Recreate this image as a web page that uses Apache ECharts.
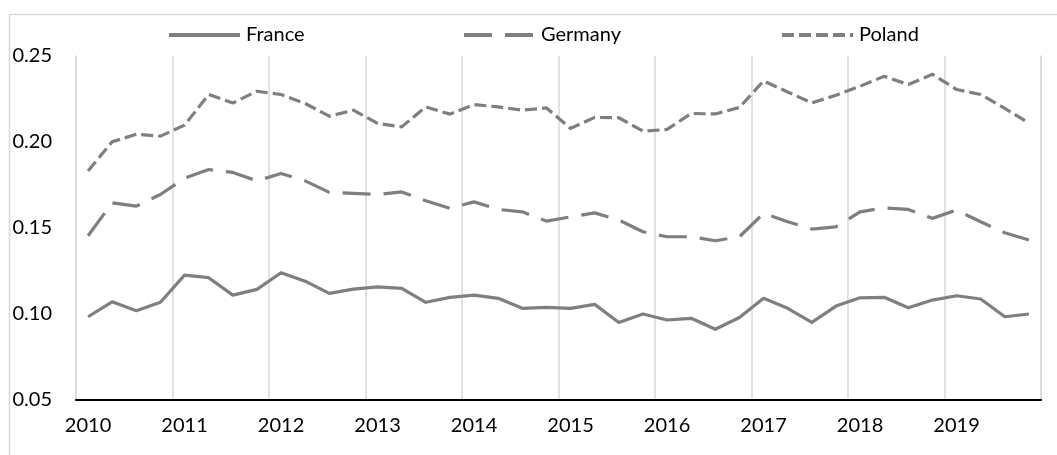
<!DOCTYPE html>
<html>
<head>
<meta charset="utf-8">
<style>
  html, body { margin: 0; padding: 0; background: #fff; }
  #chart { width: 1057px; height: 455px; }
</style>
<script src="https://cdn.jsdelivr.net/npm/echarts@6/dist/echarts.min.js"></script>
</head>
<body>
<div id="chart"></div>
<script>
  // quarterly points, 2010 Q1 .. 2019 Q4
  var years = ['2010', '2011', '2012', '2013', '2014', '2015', '2016', '2017', '2018', '2019'];
  var quarters = [];
  years.forEach(function (y) {
    for (var q = 1; q <= 4; q++) {
      quarters.push(y + 'Q' + q);
    }
  });

  var france = [
    0.0984, 0.1071, 0.1019, 0.1068, 0.1226, 0.1211, 0.1110, 0.1143,
    0.1240, 0.1191, 0.1120, 0.1145, 0.1158, 0.1149, 0.1068, 0.1097,
    0.1110, 0.1091, 0.1033, 0.1039, 0.1033, 0.1056, 0.0951, 0.1000,
    0.0965, 0.0975, 0.0911, 0.0980, 0.1091, 0.1033, 0.0951, 0.1046,
    0.1094, 0.1097, 0.1036, 0.1081, 0.1106, 0.1087, 0.0984, 0.1000
  ];
  var germany = [
    0.1455, 0.1646, 0.1627, 0.1695, 0.1790, 0.1840, 0.1823, 0.1774,
    0.1817, 0.1774, 0.1707, 0.1701, 0.1695, 0.1710, 0.1658, 0.1614,
    0.1652, 0.1608, 0.1594, 0.1540, 0.1565, 0.1588, 0.1546, 0.1478,
    0.1449, 0.1449, 0.1426, 0.1449, 0.1585, 0.1536, 0.1494, 0.1507,
    0.1594, 0.1617, 0.1608, 0.1556, 0.1604, 0.1536, 0.1472, 0.1430
  ];
  var poland = [
    0.1832, 0.2001, 0.2045, 0.2034, 0.2098, 0.2276, 0.2227, 0.2295,
    0.2276, 0.2224, 0.2150, 0.2185, 0.2108, 0.2088, 0.2204, 0.2162,
    0.2218, 0.2204, 0.2185, 0.2198, 0.2079, 0.2143, 0.2141, 0.2063,
    0.2073, 0.2166, 0.2163, 0.2201, 0.2355, 0.2291, 0.2227, 0.2272,
    0.2324, 0.2382, 0.2334, 0.2394, 0.2305, 0.2276, 0.2195, 0.2110
  ];

  var lineColor = '#7f7f7f';
  var gridColor = '#d9d9d9';
  var font = 'Lato';

  var mkSeries = function (name, data, dash) {
    return {
      name: name,
      type: 'line',
      data: data,
      showSymbol: false,
      symbol: 'none',
      animation: false,
      lineStyle: { color: lineColor, width: 3.2, type: dash, cap: 'butt', join: 'round' },
      itemStyle: { color: lineColor }
    };
  };

  var mkLegend = function (name, left) {
    return {
      data: [name],
      left: left,
      top: 20,
      itemWidth: 71,
      itemHeight: 20,
      itemGap: 0,
      itemStyle: { opacity: 0 },
      lineStyle: { width: 4 },
      textStyle: { fontFamily: font, fontSize: 20, color: '#000', padding: [0, 0, 0, 1] }
    };
  };

  var chart = echarts.init(document.getElementById('chart'));
  chart.setOption({
    backgroundColor: '#fff',
    animation: false,
    graphic: [{
      type: 'rect',
      left: 7,
      top: 12,
      shape: { width: 1100, height: 500 },
      style: { fill: 'none', stroke: gridColor, lineWidth: 1.5 },
      silent: true
    }],
    legend: [
      mkLegend('France', 162),
      mkLegend('Germany', 457),
      mkLegend('Poland', 775)
    ],
    grid: { left: 76, right: 16, top: 56, bottom: 55, containLabel: false },
    xAxis: {
      type: 'category',
      data: quarters,
      boundaryGap: true,
      axisLine: { show: true, lineStyle: { color: '#000', width: 2 } },
      axisTick: { show: false, interval: 3 },
      axisLabel: {
        interval: 3,
        margin: 16,
        fontFamily: font,
        fontSize: 20,
        color: '#000',
        formatter: function (v) { return v.slice(0, 4); }
      },
      splitLine: { show: true, interval: 3, lineStyle: { color: gridColor, width: 1.5 } }
    },
    yAxis: [{
      type: 'value',
      min: 0.05,
      max: 0.25,
      interval: 0.05,
      axisLine: { show: true, lineStyle: { color: gridColor, width: 1.5 } },
      axisTick: { show: false },
      splitLine: { show: false },
      axisLabel: {
        margin: 24,
        fontFamily: font,
        fontSize: 20,
        color: '#000',
        formatter: function (v) { return v.toFixed(2); }
      }
    }, {
      type: 'value',
      position: 'right',
      min: 0.05,
      max: 0.25,
      interval: 0.05,
      axisLine: { show: true, lineStyle: { color: gridColor, width: 1.5 } },
      axisTick: { show: false },
      axisLabel: { show: false },
      splitLine: { show: false }
    }],
    series: [
      mkSeries('France', france, 'solid'),
      mkSeries('Germany', germany, [28, 13]),
      mkSeries('Poland', poland, [12, 5])
    ]
  });
</script>
</body>
</html>
